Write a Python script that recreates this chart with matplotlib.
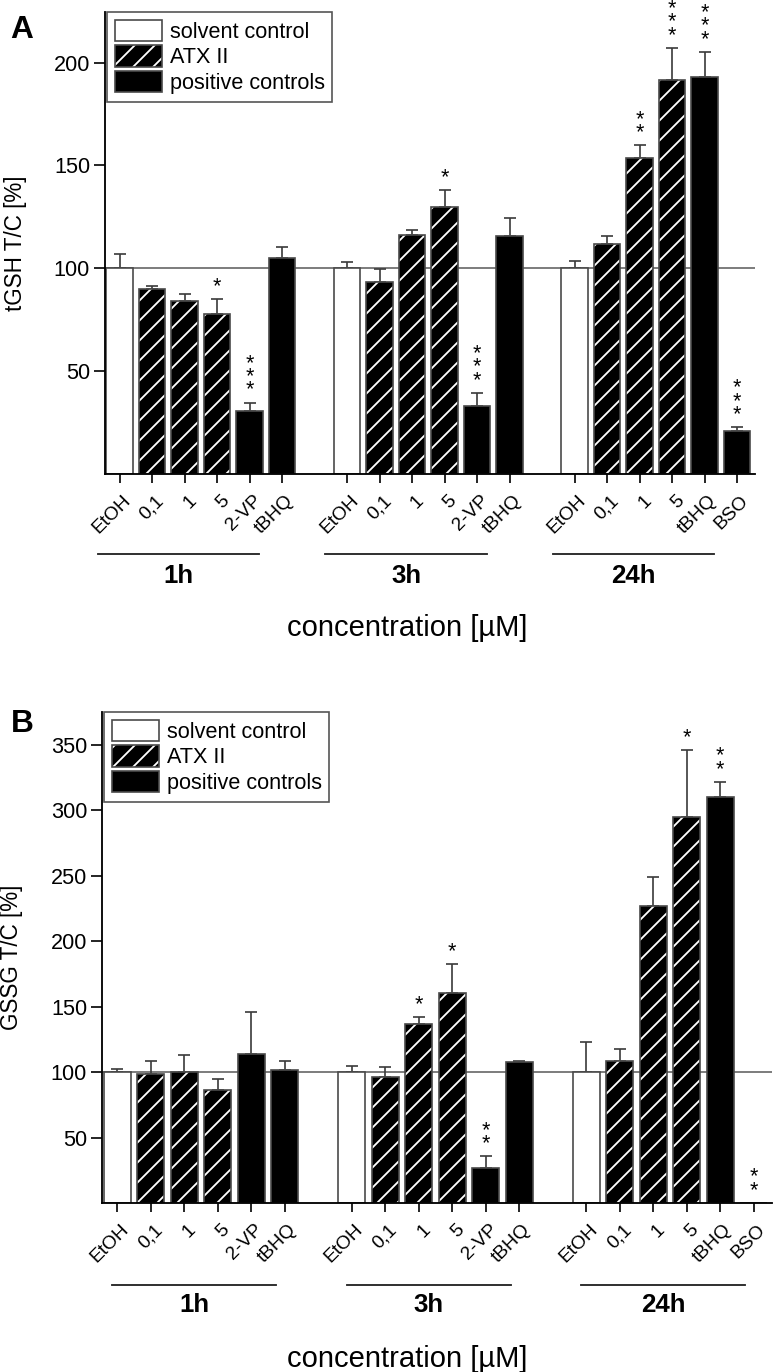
import numpy as np
import matplotlib
matplotlib.use("Agg")
import matplotlib.pyplot as plt
import matplotlib.transforms as mtransforms
from matplotlib.patches import Patch

plt.rcParams['font.family'] = ['Liberation Sans', 'DejaVu Sans']
plt.rcParams['hatch.linewidth'] = 1.1

DPI = 120

# --- data ---
labels_early = ['EtOH', '0,1', '1', '5', '2-VP', 'tBHQ']
labels_late = ['EtOH', '0,1', '1', '5', 'tBHQ', 'BSO']
groups = ['1h', '3h', '24h']
kinds_early = ['solvent', 'atx', 'atx', 'atx', 'pos', 'pos']
kinds_late = ['solvent', 'atx', 'atx', 'atx', 'pos', 'pos']

# panel A: tGSH
tgsh_1h = [100, 89.8, 84.0, 77.8, 30.6, 105.2]
tgsh_3h = [100, 93.5, 116.3, 129.8, 32.9, 115.5]
tgsh_24h = [100, 111.7, 153.6, 191.5, 193.2, 20.9]
tgsh_err_1h = [7.0, 1.6, 3.5, 7.2, 4.1, 5.2]
tgsh_err_3h = [3.0, 6.0, 2.1, 8.4, 6.5, 8.9]
tgsh_err_24h = [3.4, 4.1, 6.2, 15.7, 12.1, 1.8]
tgsh_sig = ['', '', '', '*', '***', '',
            '', '', '', '*', '***', '',
            '', '', '**', '***', '***', '***']

# panel B: GSSG
gssg_1h = [100, 98.8, 100, 86.6, 113.5, 101.6]
gssg_3h = [100, 96.3, 136.6, 160.5, 26.4, 107.4]
gssg_24h = [100, 108.4, 226.5, 295.0, 310.4, 0]
gssg_err_1h = [2.0, 10.0, 13.3, 8.0, 32.0, 6.6]
gssg_err_3h = [4.9, 7.3, 5.6, 22.0, 9.4, 0.8]
gssg_err_24h = [22.6, 8.9, 22.7, 51.0, 11.2, 0]
gssg_sig = ['', '', '', '', '', '',
            '', '', '*', '*', '**', '',
            '', '', '', '*', '**', '**']

EDGE = '#4a4a4a'
ERRC = '#3a3a3a'


def px(v):
    return v / DPI


def draw_panel(fig, rect, values, errs, sig, ylim, yticks, ylabel, letter,
               letter_xy, ylabel_x, line_span, line_off, conc_y):
    ax = fig.add_axes(rect)
    x = np.concatenate([np.arange(6) + 7 * g for g in range(3)])
    kinds = kinds_early * 2 + kinds_late
    ticklabels = labels_early * 2 + labels_late
    w = 0.81

    ax.axhline(100, color='#555555', lw=0.9, zorder=0.5)
    for xi, v, k in zip(x, values, kinds):
        if k == 'solvent':
            ax.bar(xi, v, w, color='white', edgecolor=EDGE, lw=1, zorder=2)
        elif k == 'atx':
            ax.bar(xi, v, w, color='black', edgecolor='white', hatch='//', lw=0, zorder=2)
            ax.bar(xi, v, w, fill=False, edgecolor=EDGE, lw=1, zorder=2.1)
        else:
            ax.bar(xi, v, w, color='black', edgecolor=EDGE, lw=1, zorder=2)

    err = np.array(errs)
    mask = err > 0
    ax.errorbar(x[mask], np.array(values)[mask], yerr=[np.zeros(mask.sum()), err[mask]],
                fmt='none', ecolor=ERRC, elinewidth=1, capsize=3.5, capthick=1, zorder=1.5)

    # significance stars, stacked vertically
    for xi, v, e, s in zip(x, values, errs, sig):
        if s:
            ax.annotate('\n'.join(s), (xi, v + e), xytext=(0, 7), textcoords='offset pixels',
                        ha='center', va='baseline', fontsize=13, linespacing=0.52)

    ax.set_xlim(-0.45, 19.55)
    ax.set_ylim(*ylim)
    ax.set_yticks(yticks)
    ax.tick_params(axis='y', direction='out', length=6.5, width=1, labelsize=13, pad=2.5)
    ax.set_xticks(x)
    ax.set_xticklabels(ticklabels, rotation=45, ha='right', va='center',
                       rotation_mode='anchor', fontsize=11.5)
    ax.tick_params(axis='x', direction='out', length=5.4, width=1, pad=9)
    shift = mtransforms.ScaledTranslation(px(9), 0, fig.dpi_scale_trans)
    for lab in ax.get_xticklabels():
        lab.set_transform(lab.get_transform() + shift)

    for s in ['top', 'right']:
        ax.spines[s].set_visible(False)
    for s in ['left', 'bottom']:
        ax.spines[s].set_linewidth(1.1)

    ax.set_ylabel(ylabel, fontsize=13.5)
    ax.yaxis.set_label_coords(ylabel_x, 0.5)

    # time group annotations under the axis
    line_tr = ax.get_xaxis_transform() + mtransforms.ScaledTranslation(0, -px(line_off), fig.dpi_scale_trans)
    text_tr = ax.get_xaxis_transform() + mtransforms.ScaledTranslation(0, -px(109), fig.dpi_scale_trans)
    for g, name in enumerate(groups):
        a, b = 7 * g + line_span[0], 7 * g + line_span[1]
        ax.plot([a, b], [0, 0], color='#222222', lw=1.1, transform=line_tr, clip_on=False)
        ax.text((a + b) / 2, 0, name, transform=text_tr, ha='center', va='baseline',
                fontsize=15.5, fontweight='bold')

    fig.text(407 / 774, conc_y, 'concentration [µM]', ha='center', va='baseline', fontsize=17.5)
    fig.text(letter_xy[0], letter_xy[1], letter, ha='center', va='center',
             fontsize=19, fontweight='bold')

    handles = [Patch(facecolor='white', edgecolor=EDGE, lw=1),
               (Patch(facecolor='black', edgecolor='white', hatch='//', lw=0),
                Patch(fill=False, edgecolor=EDGE, lw=1)),
               Patch(facecolor='black', edgecolor=EDGE, lw=1)]
    leg = ax.legend(handles, ['solvent control', 'ATX II', 'positive controls'],
                    loc='upper left', bbox_to_anchor=(0.003, 1.0), borderaxespad=0,
                    fontsize=13, handlelength=2.2, handleheight=1.15,
                    labelspacing=0.12, handletextpad=0.35, borderpad=0.35,
                    fancybox=False, framealpha=1, edgecolor='#555555')
    leg.get_frame().set_linewidth(1)
    return ax


fig = plt.figure(figsize=(774 / DPI, 1372 / DPI), dpi=DPI)

draw_panel(fig, [105 / 774, (1372 - 474) / 1372, 650 / 774, 462 / 1372],
           tgsh_1h + tgsh_3h + tgsh_24h, tgsh_err_1h + tgsh_err_3h + tgsh_err_24h,
           tgsh_sig, (0, 224.6), [50, 100, 150, 200], 'tGSH T/C [%]', 'A',
           (22 / 774, 1 - 30 / 1372), -0.12, (-0.67, 4.3), 80, 1 - 636 / 1372)

draw_panel(fig, [102 / 774, (1372 - 1203) / 1372, 670 / 774, 491 / 1372],
           gssg_1h + gssg_3h + gssg_24h, gssg_err_1h + gssg_err_3h + gssg_err_24h,
           gssg_sig, (0, 375), [50, 100, 150, 200, 250, 300, 350], 'GSSG T/C [%]', 'B',
           (22 / 774, 1 - 724 / 1372), -0.118, (-0.15, 4.75), 82, 1 - 1367 / 1372)

fig.savefig('out.png', dpi=DPI)
